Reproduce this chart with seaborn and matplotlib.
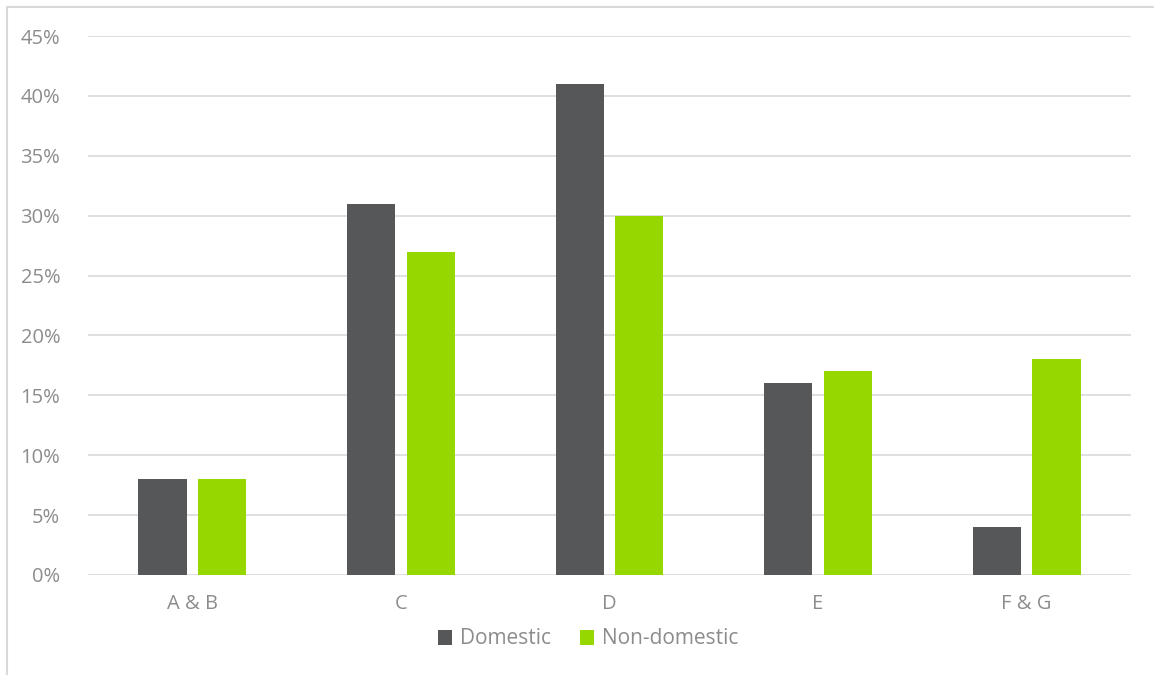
import matplotlib
matplotlib.use("Agg")
import matplotlib.pyplot as plt
from matplotlib.lines import Line2D
from matplotlib.patches import Patch
from matplotlib.ticker import FuncFormatter, MultipleLocator
import seaborn as sns
import pandas as pd

categories = ["A & B", "C", "D", "E", "F & G"]
domestic = [8, 31, 41, 16, 4]
non_domestic = [8, 27, 30, 17, 18]
series_names = ["Domestic", "Non-domestic"]
colors = ["#555759", "#97D700"]

df = pd.DataFrame({
    "category": categories * 2,
    "value": domestic + non_domestic,
    "series": [series_names[0]] * len(categories) + [series_names[1]] * len(categories),
})

sns.set_theme(style="white")
plt.rcParams["font.family"] = ["Open Sans", "DejaVu Sans"]
text_color = "#8c8c8c"

fig = plt.figure(figsize=(11.54, 6.75), dpi=100)
ax = fig.add_axes([88/1154, 1 - 575/675, (1131 - 88)/1154, (575 - 36)/675])

sns.barplot(data=df, x="category", y="value", hue="series", order=categories,
            hue_order=series_names, palette=colors, width=0.57, gap=0.19,
            saturation=1, ax=ax, legend=False, zorder=3, linewidth=0)

ax.set_ylim(0, 45)
ax.set_xlim(-0.5, len(categories) - 0.5)
ax.yaxis.set_major_locator(MultipleLocator(5))
ax.yaxis.set_major_formatter(FuncFormatter(lambda v, p: f"{int(round(v))}%"))
ax.grid(axis="y", color="#d9d9d9", linewidth=1.2, zorder=0)
ax.set_axisbelow(True)
for s in ax.spines.values():
    s.set_visible(False)
ax.set_xlabel("")
ax.set_ylabel("")
ax.tick_params(axis="both", length=0, labelsize=14.5, labelcolor=text_color)
ax.tick_params(axis="y", pad=20)
ax.tick_params(axis="x", pad=14)

handles = [Patch(facecolor=c, edgecolor="none") for c in colors]
fig.legend(handles, series_names, loc="center", bbox_to_anchor=(588/1154, 1 - 639/675),
           ncol=2, frameon=False, fontsize=15, labelcolor=text_color,
           handlelength=0.7, handleheight=0.7, handletextpad=0.35, columnspacing=1.4)

# chart area border (left & top)
fig.add_artist(Line2D([7/1154, 7/1154], [0, 1 - 7/675], color="#d9d9d9", linewidth=1.5, transform=fig.transFigure))
fig.add_artist(Line2D([7/1154, 1], [1 - 7/675, 1 - 7/675], color="#d9d9d9", linewidth=1.5, transform=fig.transFigure))

fig.savefig("out.png", dpi=100, facecolor="white")
